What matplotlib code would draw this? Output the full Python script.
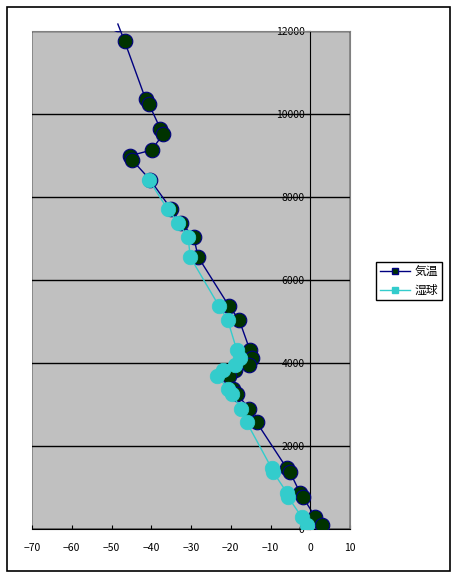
import matplotlib
matplotlib.use("Agg")
import matplotlib.pyplot as plt
from matplotlib.patches import Rectangle

plt.rcParams['font.family'] = ['Noto Sans CJK JP', 'DejaVu Sans']

# 高度 (m)
height_air = [12175, 11757, 10359, 10246, 9651, 9523, 9137, 9000, 8896,
              8421, 7715, 7385, 7032, 6557, 5384, 5046, 4320, 4135, 3945,
              3830, 3690, 3385, 3262, 2905, 2575, 1463, 1370, 880, 760,
              297, 96]
# 気温 (°C)
temp_air = [-48.4, -46.7, -41.4, -40.6, -37.7, -37.0, -39.9, -45.3, -44.8,
            -40.3, -35.0, -32.5, -29.3, -28.2, -20.5, -17.9, -15.2, -14.7,
            -15.4, -18.9, -20.5, -19.4, -18.5, -15.4, -13.5, -5.9, -5.1,
            -2.6, -1.8, 1.2, 2.9]
# 湿球 (°C), 8421 m 以下
height_wet = height_air[9:]
temp_wet = [-40.6, -35.9, -33.2, -30.7, -30.2, -23.0, -20.8, -18.5, -17.7,
            -18.9, -21.9, -23.5, -20.6, -19.7, -17.5, -16.0, -9.7, -9.3,
            -5.9, -5.5, -2.2, -0.9]

W, H = 460, 579
fig = plt.figure(figsize=(W / 100, H / 100), dpi=100)
ax = fig.add_axes([32 / W, 1 - 529 / H, 318 / W, 497.7 / H])
ax.set_facecolor("#c0c0c0")

navy = "#000080"
dgreen = "#003300"
cyan = "#33cccc"

ax.plot(temp_air, height_air, color=navy, lw=1, clip_on=False, zorder=2)
ax.plot(temp_air, height_air, "o", ms=10.5, mfc=dgreen, mec=navy, mew=0.8, zorder=3)
ax.plot(temp_wet, height_wet, color=cyan, lw=1, zorder=4)
ax.plot(temp_wet, height_wet, "o", ms=10.5, mfc=cyan, mec=cyan, mew=0.5, zorder=5)

ax.set_xlim(-70, 10)
ax.set_ylim(0, 12000)
ax.set_xticks(range(-70, 11, 10))
ax.set_yticks(range(0, 12001, 2000))
ax.yaxis.grid(True, color="black", lw=1)
ax.set_axisbelow(True)

for s in ("top", "right"):
    ax.spines[s].set_color("#808080")
ax.spines["bottom"].set_color("black")
ax.spines["left"].set_position(("data", 0))
ax.spines["left"].set_color("black")
ax.add_patch(Rectangle((0, 0), 1, 1, transform=ax.transAxes, fill=False,
                       edgecolor="#808080", lw=1.2, zorder=0.5))
ax.tick_params(axis="x", direction="in", length=3, labelsize=7.5, pad=10,
               colors="black")
ax.tick_params(axis="y", direction="out", length=3, labelsize=7.5, pad=1)

leg_handles = [
    plt.Line2D([], [], color=navy, lw=1, marker="s", ms=4, mfc=dgreen, mec=navy),
    plt.Line2D([], [], color=cyan, lw=1, marker="s", ms=4, mfc=cyan, mec=cyan),
]
leg = fig.legend(leg_handles, ["気温", "湿球"], loc="upper left",
                 bbox_to_anchor=(376 / W, 1 - 262 / H), fontsize=8.5,
                 fancybox=False, edgecolor="black", framealpha=1,
                 handlelength=2.6, borderpad=0.3, labelspacing=0.45,
                 handletextpad=0.4, borderaxespad=0)
leg.get_frame().set_linewidth(1)

fig.patches.append(Rectangle((7 / W, 1 - 571 / H), 443 / W, 564 / H,
                             transform=fig.transFigure, fill=False,
                             edgecolor="black", lw=1.2))

fig.savefig("out.png", dpi=100)
